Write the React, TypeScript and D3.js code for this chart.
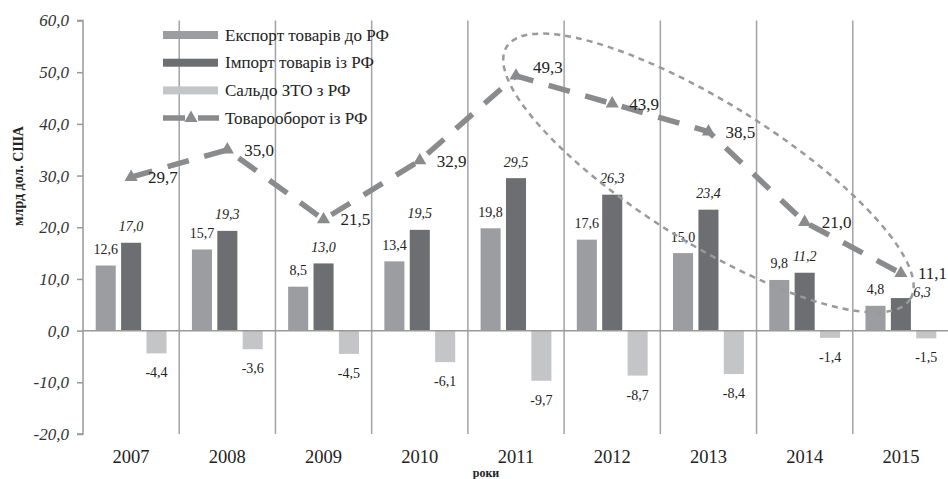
import React, { useEffect, useRef } from 'react';
import * as d3 from 'd3';

const years = ['2007', '2008', '2009', '2010', '2011', '2012', '2013', '2014', '2015'];
const exportValues = [12.6, 15.7, 8.5, 13.4, 19.8, 17.6, 15.0, 9.8, 4.8];
const importValues = [17.0, 19.3, 13.0, 19.5, 29.5, 26.3, 23.4, 11.2, 6.3];
const saldoValues = [-4.4, -3.6, -4.5, -6.1, -9.7, -8.7, -8.4, -1.4, -1.5];
const turnoverValues = [29.7, 35.0, 21.5, 32.9, 49.3, 43.9, 38.5, 21.0, 11.1];
const yTicks = [-20, -10, 0, 10, 20, 30, 40, 50, 60];

const seriesNames = ['Експорт товарів до РФ', 'Імпорт товарів із РФ', 'Сальдо ЗТО з РФ'];
const lineName = 'Товарооборот із РФ';
const colors = ['#9c9da0', '#6d6e72', '#c4c5c7'];
const lineColor = '#8a8b8d';

const FONT = '"Liberation Serif", "Times New Roman", serif';
const fmt = (v: number) => v.toFixed(1).replace('.', ',');

export default function App() {
  const svgRef = useRef<SVGSVGElement>(null);

  useEffect(() => {
    if (!svgRef.current) return;
    const svg = d3.select(svgRef.current);
    svg.selectAll('*').remove();

    const left = 83, right = 949, top = 20.5, bottom = 434;

    const x = d3.scaleBand().domain(years).range([left, right]).padding(0);
    const xs = d3.scaleBand().domain(['0', '1', '2']).range([0, x.bandwidth()])
      .paddingInner(0.21).paddingOuter(0.5);
    const y = d3.scaleLinear().domain([-20, 60]).range([bottom, top]);

    // vertical dividers between years
    svg.append('g')
      .selectAll('line')
      .data(years.slice(1))
      .join('line')
      .attr('x1', d => x(d)!)
      .attr('x2', d => x(d)!)
      .attr('y1', top)
      .attr('y2', bottom)
      .attr('stroke', '#a3a3a3')
      .attr('stroke-width', 1.5);

    // y axis
    svg.append('g')
      .attr('transform', `translate(${left},0)`)
      .attr('font-family', FONT)
      .call(d3.axisLeft(y).tickValues(yTicks).tickSize(6).tickPadding(8).tickFormat(d => fmt(+d)))
      .call(g => g.select('.domain').attr('stroke', '#999').attr('stroke-width', 1.5).attr('d', `M-6,${top}H0V${bottom}H-6`))
      .call(g => g.selectAll('.tick line').attr('stroke', '#999').attr('stroke-width', 1.5))
      .call(g => g.selectAll('.tick text')
        .attr('font-family', FONT)
        .attr('font-style', 'italic')
        .attr('font-size', 17)
        .attr('fill', '#333'));

    // bars
    const series = [exportValues, importValues, saldoValues];
    series.forEach((vals, si) => {
      svg.append('g')
        .selectAll('rect')
        .data(vals)
        .join('rect')
        .attr('x', (d, i) => x(years[i])! + xs(String(si))!)
        .attr('width', xs.bandwidth())
        .attr('y', d => y(Math.max(0, d)))
        .attr('height', d => Math.abs(y(d) - y(0)))
        .attr('fill', colors[si]);
    });

    // zero line
    svg.append('line')
      .attr('x1', left).attr('x2', right)
      .attr('y1', y(0)).attr('y2', y(0))
      .attr('stroke', '#999').attr('stroke-width', 1.5);

    // bar labels
    const barLabel = (vals: number[], si: number, italic: boolean) => {
      svg.append('g')
        .selectAll('text')
        .data(vals)
        .join('text')
        .attr('x', (d, i) => {
          const cx = x(years[i])! + xs(String(si))! + xs.bandwidth() / 2;
          return si === 1 && i === vals.length - 1 ? cx + 21 : cx;
        })
        .attr('y', (d, i) => {
          if (d < 0) return y(d) + 24;
          return si === 1 && i === vals.length - 1 ? y(d) - 1 : y(d) - 11.5;
        })
        .attr('text-anchor', 'middle')
        .attr('font-family', FONT)
        .attr('font-size', 14)
        .attr('font-style', italic ? 'italic' : 'normal')
        .attr('fill', '#222')
        .text(d => fmt(d));
    };
    barLabel(exportValues, 0, false);
    barLabel(importValues, 1, true);
    barLabel(saldoValues, 2, false);

    // highlight ellipse
    const ex = x('2013')! + x.bandwidth() / 2;
    const ey = y(30.5);
    svg.append('ellipse')
      .attr('cx', 0).attr('cy', 0)
      .attr('rx', 238).attr('ry', 70)
      .attr('transform', `translate(${ex},${ey}) rotate(32)`)
      .attr('fill', 'none')
      .attr('stroke', '#9a9a9a')
      .attr('stroke-width', 2.5)
      .attr('stroke-dasharray', '6 5');

    // turnover line
    const cx = (i: number) => x(years[i])! + x.bandwidth() / 2;
    const line = d3.line<number>().x((d, i) => cx(i)).y(d => y(d));
    svg.append('path')
      .datum(turnoverValues)
      .attr('d', line)
      .attr('fill', 'none')
      .attr('stroke', lineColor)
      .attr('stroke-width', 5.5)
      .attr('stroke-dasharray', '22 16');

    const tri = d3.symbol(d3.symbolTriangle).size(75);
    svg.append('g')
      .selectAll('path')
      .data(turnoverValues)
      .join('path')
      .attr('d', tri)
      .attr('transform', (d, i) => `translate(${cx(i)},${y(d)})`)
      .attr('fill', lineColor);

    svg.append('g')
      .selectAll('text')
      .data(turnoverValues)
      .join('text')
      .attr('x', (d, i) => cx(i) + 17)
      .attr('y', (d, i) => y(d) + 6 - (i === 4 ? 9 : 0))
      .attr('font-family', FONT)
      .attr('font-size', 17)
      .attr('fill', '#222')
      .text(d => fmt(d));

    // x labels
    svg.append('g')
      .selectAll('text')
      .data(years)
      .join('text')
      .attr('x', d => x(d)! + x.bandwidth() / 2)
      .attr('y', 463)
      .attr('text-anchor', 'middle')
      .attr('font-family', FONT)
      .attr('font-size', 18.5)
      .attr('fill', '#222')
      .text(d => d);

    svg.append('text')
      .attr('x', 486).attr('y', 477)
      .attr('text-anchor', 'middle')
      .attr('font-family', FONT)
      .attr('font-weight', 'bold')
      .attr('font-size', 12)
      .attr('fill', '#222')
      .text('роки');

    svg.append('text')
      .attr('transform', 'translate(23,176) rotate(-90)')
      .attr('text-anchor', 'middle')
      .attr('font-family', FONT)
      .attr('font-weight', 'bold')
      .attr('font-size', 14)
      .attr('fill', '#222')
      .text('млрд дол. США');

    // legend
    const lg = svg.append('g');
    const rowY = (i: number) => 35 + i * 27.7;
    seriesNames.forEach((name, i) => {
      lg.append('rect')
        .attr('x', 163).attr('y', rowY(i) - 4)
        .attr('width', 55).attr('height', 8)
        .attr('fill', colors[i]);
      lg.append('text')
        .attr('x', 225).attr('y', rowY(i) + 5.5)
        .attr('font-family', FONT).attr('font-size', 17).attr('fill', '#222')
        .text(name);
    });
    lg.append('line')
      .attr('x1', 163).attr('x2', 219)
      .attr('y1', rowY(3)).attr('y2', rowY(3))
      .attr('stroke', lineColor).attr('stroke-width', 5.5)
      .attr('stroke-dasharray', '22 13');
    lg.append('path')
      .attr('d', tri)
      .attr('transform', `translate(191,${rowY(3)})`)
      .attr('fill', lineColor);
    lg.append('text')
      .attr('x', 225).attr('y', rowY(3) + 5.5)
      .attr('font-family', FONT).attr('font-size', 17).attr('fill', '#222')
      .text(lineName);
  }, []);

  return (
    <>
      <style>{'body{margin:0}'}</style>
      <svg ref={svgRef} width={948} height={479} style={{ display: 'block', background: '#fff' }} />
    </>
  );
}
